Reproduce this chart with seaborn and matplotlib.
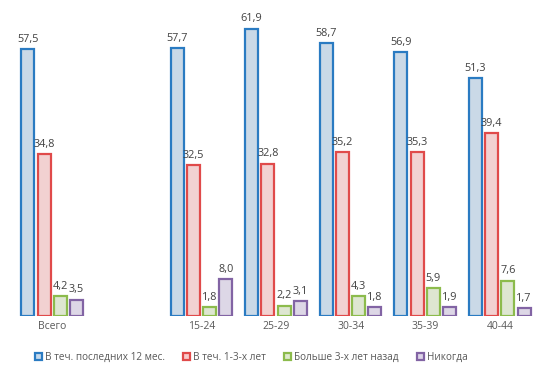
import pandas as pd
import seaborn as sns
import matplotlib.pyplot as plt
from matplotlib.patches import Patch

# categories (blank slot between "Всего" and age groups)
groups = ["Всего", "15-24", "25-29", "30-34", "35-39", "40-44"]
order = ["Всего", " ", "15-24", "25-29", "30-34", "35-39", "40-44"]
series = ["В теч. последних 12 мес.", "В теч. 1-3-х лет", "Больше 3-х лет назад", "Никогда"]

last_12 = [57.5, 57.7, 61.9, 58.7, 56.9, 51.3]
years_1_3 = [34.8, 32.5, 32.8, 35.2, 35.3, 39.4]
more_3 = [4.2, 1.8, 2.2, 4.3, 5.9, 7.6]
never = [3.5, 8.0, 3.1, 1.8, 1.9, 1.7]

fills = ["#c5d9ec", "#f8cbcb", "#dfeacd", "#ddd4e8"]
edges = ["#2a7bc2", "#e04a4a", "#8cbb4c", "#8264a4"]

df = pd.DataFrame({
    "group": groups * 4,
    "series": [s for s in series for _ in groups],
    "value": last_12 + years_1_3 + more_3 + never,
})

sns.set_theme(style="white")
plt.rcParams["font.family"] = ["Open Sans", "DejaVu Sans"]

fig = plt.figure(figsize=(5.52, 3.72), dpi=100)
ax = fig.add_axes([0.027, 0.151, 0.946, 0.811])

sns.barplot(data=df, x="group", y="value", hue="series", order=order,
            hue_order=series, palette=fills, width=0.87, gap=0.2,
            linewidth=1.6, legend=False, ax=ax)

for cont, ec in zip(ax.containers, edges):
    for bar in cont:
        bar.set_edgecolor(ec)
    ax.bar_label(cont, fmt=lambda v: f"{v:.1f}".replace(".", ","),
                 padding=3, fontsize=7.8, color="#404040")

ax.set_xlim(-0.5, 6.5)
ax.set_ylim(0, 65)
ax.set_yticks([])
ax.set_xlabel("")
ax.set_ylabel("")
ax.tick_params(axis="x", length=0, labelsize=7.5, colors="#595959", pad=4)
sns.despine(ax=ax, left=True, bottom=True)

handles = [Patch(facecolor=f, edgecolor=e, linewidth=1.6) for f, e in zip(fills, edges)]
fig.legend(handles, series, loc="lower center", bbox_to_anchor=(0.455, 0.0),
           ncol=4, frameon=False, fontsize=7.2, labelcolor="#595959",
           handlelength=0.7, handleheight=0.7, handletextpad=0.3, columnspacing=1.8)

fig.savefig("out.png", dpi=100)
